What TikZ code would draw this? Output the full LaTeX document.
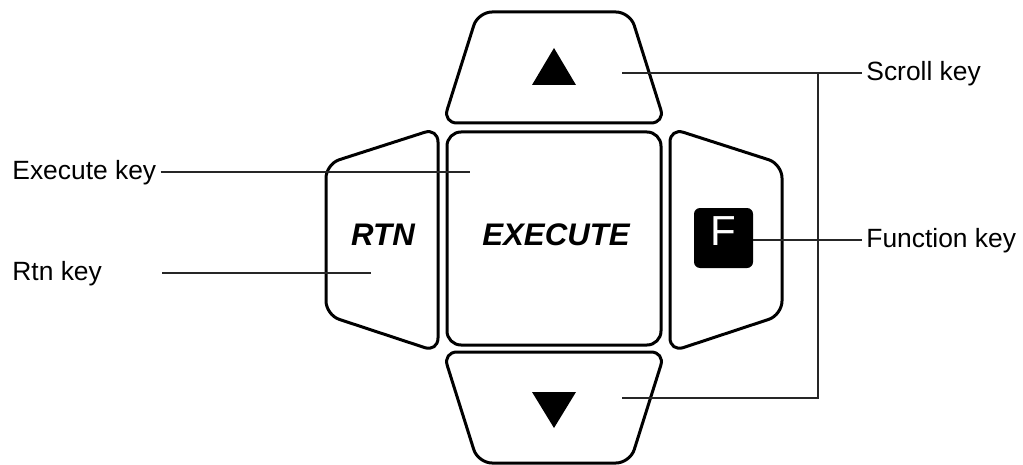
\documentclass[tikz,border=0pt]{standalone}
\usepackage{fontspec}
\setmainfont{Liberation Sans}

\begin{document}
\begin{tikzpicture}[x=0.5pt,y=-0.5pt,
    key/.style={line width=1.5pt,rounded corners=7pt,line join=round},
    leader/.style={line width=0.6pt,black!85},
    lbl/.style={font=\fontsize{13.2}{15}\selectfont,inner sep=2pt,text height=0.72em,text depth=0pt},
    keytext/.style={font=\fontsize{15.6}{18}\selectfont\bfseries\itshape,text height=0.72em,text depth=0pt}]
     \useasboundingbox (0,0) rectangle (1023,465);
     % keys
     \draw[key] (478,12) -- (630,12) -- (665,123) -- (443,123) -- cycle;
     \draw[key] (443,352) -- (665,352) -- (630,463) -- (478,463) -- cycle;
     \draw[key] (447,132) rectangle (661,345);
     \draw[key] (326,164) -- (438,128) -- (438,352) -- (326,315) -- cycle;
     \draw[key] (782,164) -- (670,128) -- (670,352) -- (782,315) -- cycle;
     \fill (554,48) -- (576,85) -- (532,85) -- cycle;
     \fill (532,392) -- (576,392) -- (554,428) -- cycle;
     \node[keytext] (execute) at (556,238) {EXECUTE};
     \node[keytext] (rtn) at (383,238) {RTN};
     \node[fill=black,rounded corners=3pt,minimum width=29.5pt,minimum height=30pt,inner sep=0pt,
           text=white,font=\fontsize{21}{24}\selectfont,text height=0.72em,text depth=0pt] (fkey) at (723.5,238) {F};
     % labels
     \node[lbl,anchor=west] (scroll) at (862,73) {Scroll key};
     \node[lbl,anchor=west] (function) at (862,240) {Function key};
     \node[lbl,anchor=west] (executelbl) at (8,172) {Execute key};
     \node[lbl,anchor=west] (rtnlbl) at (8,273) {Rtn key};
     \coordinate (upend) at (622,73);
     \coordinate (downend) at (622,398);
     \coordinate (bracket) at (818,73);
     \coordinate (execend) at (470,172);
     \coordinate (rtnstart) at (162,273);
     \coordinate (rtnend) at (371,273);
     \draw[leader] (upend) -- (scroll.west);
     \draw[leader] (downend) -| (bracket);
     \draw[leader] (fkey.east |- function.west) -- (function.west);
     \draw[leader] (executelbl.east) -- (execend);
     \draw[leader] (rtnstart) -- (rtnend);
\end{tikzpicture}
\end{document}
